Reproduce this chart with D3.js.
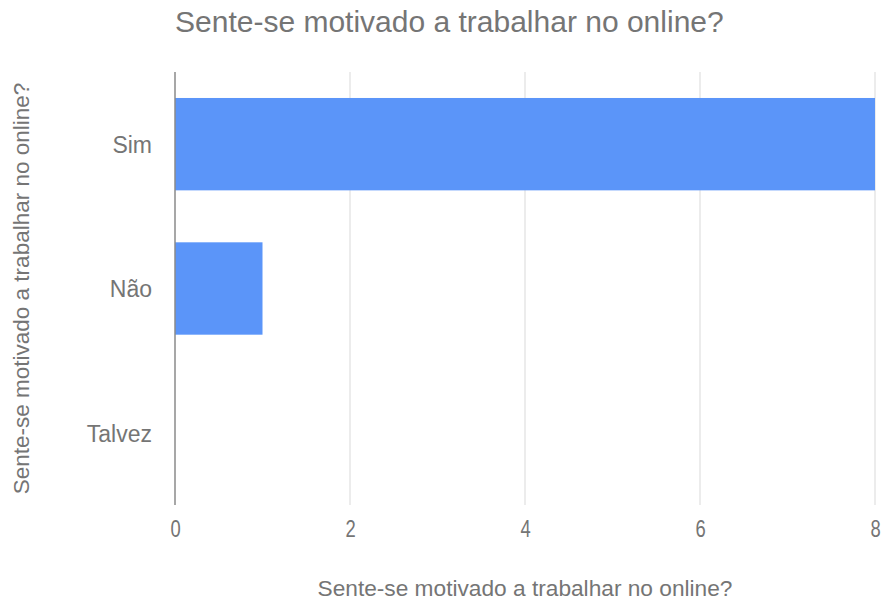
<!DOCTYPE html>
<html>
<head>
<meta charset="utf-8">
<script src="https://cdn.jsdelivr.net/npm/d3@7"></script>
<style>
  body { margin: 0; background: #fff; }
  text { font-family: "Liberation Sans", Arial, sans-serif; fill: #757575; }
</style>
</head>
<body>
<svg id="chart" width="886" height="605"></svg>
<script>
// answers and counts
const categories = ["Sim", "Não", "Talvez"];
const counts = [8, 1, 0];
const xTicks = [0, 2, 4, 6, 8];
const titleText = "Sente-se motivado a trabalhar no online?";

const W = 886, H = 605;
const margin = { top: 72, right: 11, bottom: 100, left: 175 };
const innerW = W - margin.left - margin.right;
const innerH = H - margin.top - margin.bottom;

const svg = d3.select("#chart");

svg.append("text")
    .attr("x", 175)
    .attr("y", 32)
    .style("font-size", "30px")
    .text(titleText);

const g = svg.append("g")
    .attr("transform", "translate(" + margin.left + "," + margin.top + ")");

const x = d3.scaleLinear()
    .domain([0, 8])
    .range([0, innerW]);

const y = d3.scaleBand()
    .domain(categories)
    .range([0, innerH])
    .paddingInner(0.36)
    .paddingOuter(0.18);

// gridlines
g.selectAll("line.grid")
    .data(xTicks.filter(d => d !== 0))
    .enter()
    .append("line")
    .attr("class", "grid")
    .attr("x1", d => x(d))
    .attr("x2", d => x(d))
    .attr("y1", 0)
    .attr("y2", innerH)
    .style("stroke", "#d9d9d9")
    .style("stroke-width", 1);

// bars
g.selectAll("rect")
    .data(counts)
    .enter()
    .append("rect")
    .attr("x", x(0))
    .attr("y", (d, i) => y(categories[i]))
    .attr("width", d => x(d) - x(0))
    .attr("height", y.bandwidth())
    .style("fill", "#5b95f9");

// baseline at zero
g.append("line")
    .attr("x1", x(0))
    .attr("x2", x(0))
    .attr("y1", 0)
    .attr("y2", innerH)
    .style("stroke", "#8a8a8a")
    .style("stroke-width", 1.5);

// x axis labels
const xAxis = g.append("g")
    .attr("transform", "translate(0," + innerH + ")")
    .call(d3.axisBottom(x).tickValues(xTicks).tickSize(0).tickPadding(16));
xAxis.select(".domain").remove();
xAxis.selectAll("text")
    .style("font-size", "23px")
    .style("fill", "#757575")
    .attr("transform", "scale(0.8,1)");

// y axis labels
const yAxis = g.append("g")
    .call(d3.axisLeft(y).tickSize(0).tickPadding(23));
yAxis.select(".domain").remove();
yAxis.selectAll("text")
    .style("font-size", "23px")
    .style("fill", "#757575")
    .attr("dy", "0.38em");

// axis titles
svg.append("text")
    .attr("x", margin.left + innerW / 2)
    .attr("y", 596)
    .attr("text-anchor", "middle")
    .style("font-size", "22.7px")
    .text(titleText);

svg.append("text")
    .attr("transform", "translate(29," + (margin.top + innerH / 2) + ") rotate(-90)")
    .attr("text-anchor", "middle")
    .style("font-size", "22.5px")
    .text(titleText);
</script>
</body>
</html>
